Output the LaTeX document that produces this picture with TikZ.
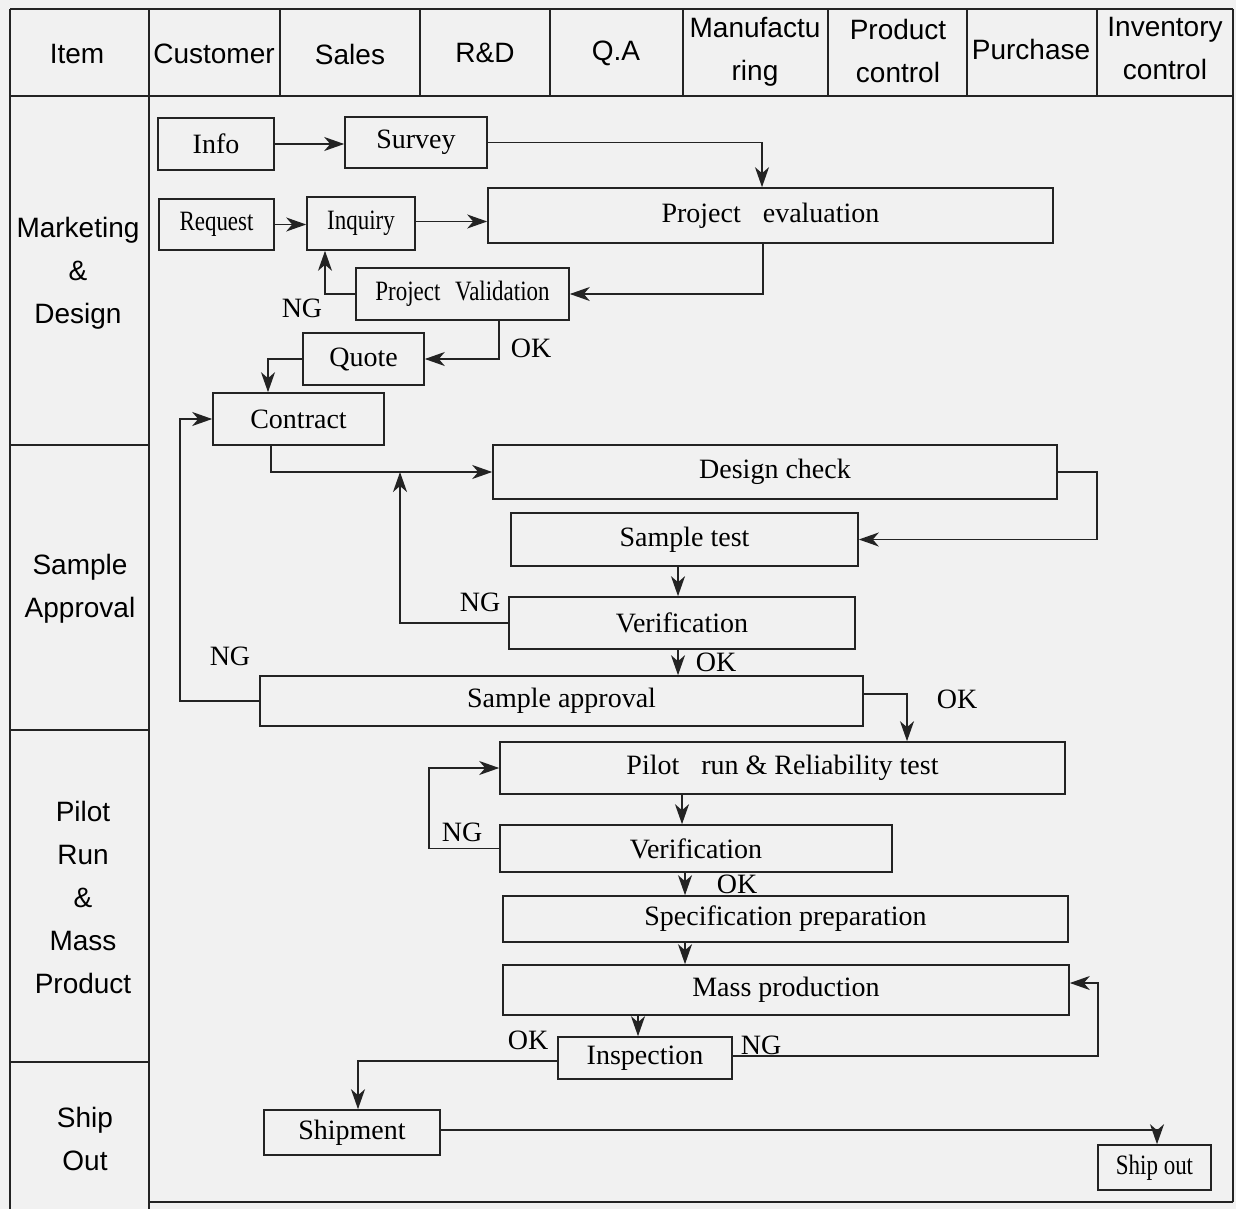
\documentclass[tikz,border=0pt]{standalone}
\usepackage{fontspec}
\setmainfont{Liberation Serif}
\setsansfont{Liberation Sans}
\usetikzlibrary{arrows.meta,calc}
\definecolor{paper}{RGB}{241,241,241}
\definecolor{ink}{RGB}{35,35,35}
\newcommand{\tightword}[1]{\scalebox{0.82}[1]{#1}}

\begin{document}
\begin{tikzpicture}[x=1pt,y=-1pt,
    grid/.style={draw=ink,line width=1.6pt},
    box/.style={draw=ink,line width=1.6pt,inner sep=0pt,text=black,font=\fontsize{28}{34}\selectfont},
    lab/.style={text=black,align=center,font=\sffamily\fontsize{28}{43}\selectfont},
    tag/.style={text=black,font=\fontsize{28}{34}\selectfont},
    flow/.style={draw=ink,line width=1.6pt,-{Stealth[length=20pt,width=14pt,inset=6pt]}}]
    \useasboundingbox (0,0) rectangle (1236,1209);
    \fill[paper] (0,0) rectangle (1236,1209);

    % frame
    \draw[grid] (10,9) -- (1233,9) (10,96) -- (1233,96) (10,9) -- (10,1209)
        (149,9) -- (149,1209) (1233,9) -- (1233,1202) (149,1202) -- (1233,1202);
    \foreach \x in {280,420,550,683,828,967,1097}{
        \draw[grid] (\x,9) -- (\x,96);
    }
    \foreach \y in {445,730,1062}{
        \draw[grid] (10,\y) -- (149,\y);
    }

    \node[lab] (item) at (77,54) {Item};
    \node[lab] (customer) at (214,54) {Customer};
    \node[lab] (sales) at (350,54) {Sales};
    \node[lab] (rd) at (485,53) {R\&D};
    \node[lab] (qa) at (616,53) {Q.A};
    \node[lab] (manuf) at (755,52) {Manufactu\\ring};
    \node[lab] (prodctl) at (898,51) {Product\\control};
    \node[lab] (purchase) at (1031,49) {Purchase};
    \node[lab] (invctl) at (1165,49) {Inventory\\control};

    \node[lab] (rowmkt) at (78,273) {Marketing\\\&\\Design};
    \node[lab] (rowsample) at (80,589) {Sample\\Approval};
    \node[lab] (rowpilot) at (83,897) {Pilot\\Run\\\&\\Mass\\Product};
    \node[lab] (rowship) at (85,1139) {Ship\\Out};

    % boxes
    \node[box,minimum width=116pt,minimum height=52pt] (info) at (216,144) {Info};
    \node[box,minimum width=142pt,minimum height=51pt] (survey) at (416,142.5) {Survey};
    \node[box,minimum width=115pt,minimum height=51pt] (request) at (216.5,224.5) {\tightword{Request}};
    \node[box,minimum width=108pt,minimum height=53pt] (inquiry) at (361,223.5) {\tightword{Inquiry}};
    \node[box,minimum width=565pt,minimum height=55pt] (projeval) at (770.5,215.5) {Project\hspace{22pt}evaluation};
    \node[box,minimum width=213pt,minimum height=52pt] (projval) at (462.5,294) {\tightword{Project\hspace{18pt}Validation}};
    \node[box,minimum width=121pt,minimum height=52pt] (quote) at (363.5,359) {Quote};
    \node[box,minimum width=171pt,minimum height=52pt] (contract) at (298.5,419) {Contract};
    \node[box,minimum width=564pt,minimum height=54pt] (design) at (775,472) {Design check};
    \node[box,minimum width=347pt,minimum height=53pt] (sampletest) at (684.5,539.5) {Sample test};
    \node[box,minimum width=346pt,minimum height=52pt] (verifa) at (682,623) {Verification};
    \node[box,minimum width=603pt,minimum height=50pt] (sampleappr) at (561.5,701) {Sample approval};
    \node[box,minimum width=565pt,minimum height=52pt] (pilot) at (782.5,768) {Pilot\hspace{22pt}run \& Reliability test};
    \node[box,minimum width=392pt,minimum height=47pt] (verifb) at (696,848.5) {Verification};
    \node[box,minimum width=565pt,minimum height=46pt] (spec) at (785.5,919) {Specification preparation};
    \node[box,minimum width=566pt,minimum height=50pt] (mass) at (786,990) {Mass production};
    \node[box,minimum width=174pt,minimum height=42pt] (inspect) at (645,1058) {Inspection};
    \node[box,minimum width=176pt,minimum height=45pt] (shipment) at (352,1132.5) {Shipment};
    \node[box,minimum width=113pt,minimum height=45pt] (shipout) at (1154.5,1167.5) {\tightword{Ship out}};

    \coordinate (back) at (400,472);

    % connectors
    \draw[flow] (info.east) -- (info.east -| survey.west);
    \draw[flow] (survey.east) -| ([xshift=-8.5pt]projeval.north);
    \draw[flow] (request.east) -- (request.east -| inquiry.west);
    \draw[flow] ([yshift=2pt]inquiry.east) -- ([yshift=2pt]inquiry.east -| projeval.west);
    \draw[flow] ([xshift=-7.5pt]projeval.south) |- (projval.east);
    \draw[flow] (projval.west) -| ([xshift=-36pt]inquiry.south);
    \draw[flow] ([xshift=36.5pt]projval.south) |- (quote.east);
    \draw[flow] (quote.west) -| ([xshift=-30.5pt]contract.north);
    \draw[flow] ([xshift=-27.5pt]contract.south) |- (design.west);
    \draw[flow] (verifa.west) -| (back);
    \draw[flow] (design.east) -- ++(39,0) |- (sampletest.east);
    \draw[flow] (678,0 |- sampletest.south) -- (678,0 |- verifa.north);
    \draw[flow] (678,0 |- verifa.south) -- (678,0 |- sampleappr.north);
    \draw[flow] (sampleappr.west) -- ++(-79,0) |- (contract.west);
    \draw[flow] ([yshift=7pt]sampleappr.east) -| (907,0 |- pilot.north);
    \draw[flow] (verifb.west) -- ++(-70,0) |- (pilot.west);
    \draw[flow] (682,0 |- pilot.south) -- (682,0 |- verifb.north);
    \draw[flow] (685,0 |- verifb.south) -- (685,0 |- spec.north);
    \draw[flow] (685,0 |- spec.south) -- (685,0 |- mass.north);
    \draw[flow] (638,0 |- mass.south) -- (638,0 |- inspect.north);
    \draw[flow] ([yshift=2pt]inspect.east) -- ++(365,0) |- ([yshift=7pt]mass.east);
    \draw[flow] ([yshift=-3pt]inspect.west) -| ([xshift=6pt]shipment.north);
    \draw[flow] ([yshift=2.5pt]shipment.east) -| ([xshift=2.5pt]shipout.north);

    \node[tag] (ngval) at (302,308) {NG};
    \node[tag] (okval) at (531,348) {OK};
    \node[tag] (ngverifa) at (480,602) {NG};
    \node[tag] (okverifa) at (716,662) {OK};
    \node[tag] (ngappr) at (230,656) {NG};
    \node[tag] (okappr) at (957,699) {OK};
    \node[tag] (ngverifb) at (462,832) {NG};
    \node[tag] (okverifb) at (737,884) {OK};
    \node[tag] (okinsp) at (528,1040) {OK};
    \node[tag] (nginsp) at (761,1045) {NG};

\end{tikzpicture}
\end{document}
